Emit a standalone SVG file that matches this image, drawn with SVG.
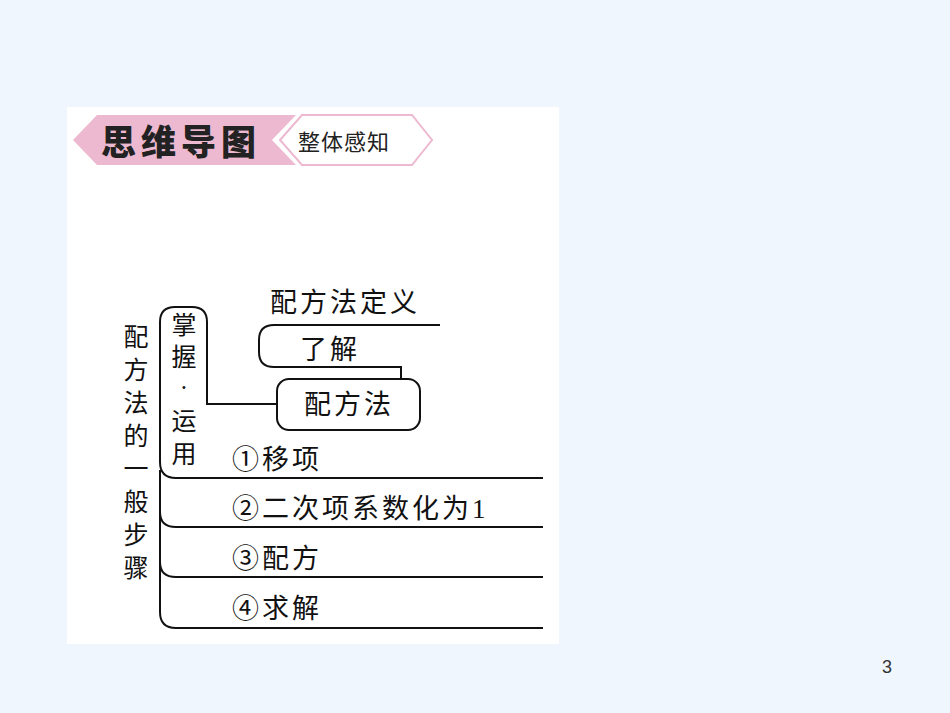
<svg xmlns="http://www.w3.org/2000/svg" width="950" height="713" viewBox="0 0 950 713">
<style>
.t{font-family:"Liberation Serif","Noto Sans CJK SC",serif;font-size:27px;fill:#111;letter-spacing:3px}
.v{font-family:"Liberation Serif","Noto Sans CJK SC",serif;font-size:25px;fill:#111;text-anchor:middle}
.ln{fill:none;stroke:#111;stroke-width:2}
</style>
<rect width="950" height="713" fill="#EFF6FD"/>
<rect x="67" y="107" width="492" height="537" fill="#fff"/>
<g id="header">
<polygon points="73,140 97,115 296,115 272,140 296,165 97,165" fill="#EDB9D0"/>
<polygon points="280,140 302,115 412,115 432,140 412,165 302,165" fill="#fff" stroke="#EDB9D0" stroke-width="2"/>
<text x="101" y="155" style="font-family:'Noto Sans CJK SC',sans-serif;font-size:35px;font-weight:900;fill:#222;letter-spacing:5px">思维导图</text>
<text x="298" y="150" style="font-family:'Noto Sans CJK SC',sans-serif;font-size:22px;fill:#222;letter-spacing:1px">整体感知</text>
</g>
<g id="root">
<text class="v" x="136" y="346">配</text><text class="v" x="136" y="379">方</text><text class="v" x="136" y="412">法</text><text class="v" x="136" y="445">的</text><text class="v" x="136" y="478">一</text><text class="v" x="136" y="511">般</text><text class="v" x="136" y="544">步</text><text class="v" x="136" y="577">骤</text>
</g>
<g id="master">
<text class="v" x="184" y="334">掌</text><text class="v" x="184" y="366">握</text><text class="v" x="184" y="396">·</text><text class="v" x="184" y="430">运</text><text class="v" x="184" y="463">用</text>
</g>
<g id="connectors">
<path class="ln" d="M543,478 H176 Q160,478 160,462 V322 Q160,307 175,307 H192 Q207,307 207,322 V404 H277"/>
<path class="ln" d="M160,470 V612 Q160,628 176,628 H543"/>
<path class="ln" d="M160,512 Q160,527 176,527 H543"/>
<path class="ln" d="M160,562 Q160,577 176,577 H543"/>
<path class="ln" d="M440,325 H274 Q259,325 259,340 V352 Q259,367 274,367 H401 V379"/>
</g>
<g id="def"><text class="t" x="270" y="312">配方法定义</text></g>
<g id="know"><text class="t" x="300" y="359">了解</text></g>
<g id="method">
<rect x="277" y="379" width="143" height="51" rx="12" class="ln"/>
<text class="t" x="304" y="414">配方法</text>
</g>
<g id="s1"><text class="t" x="232" y="469">①移项</text></g>
<g id="s2"><text class="t" x="232" y="518">②二次项系数化为1</text></g>
<g id="s3"><text class="t" x="232" y="568">③配方</text></g>
<g id="s4"><text class="t" x="232" y="618">④求解</text></g>
<text x="882" y="673" style="font-family:'Liberation Sans',sans-serif;font-size:18px;fill:#333">3</text>
</svg>
